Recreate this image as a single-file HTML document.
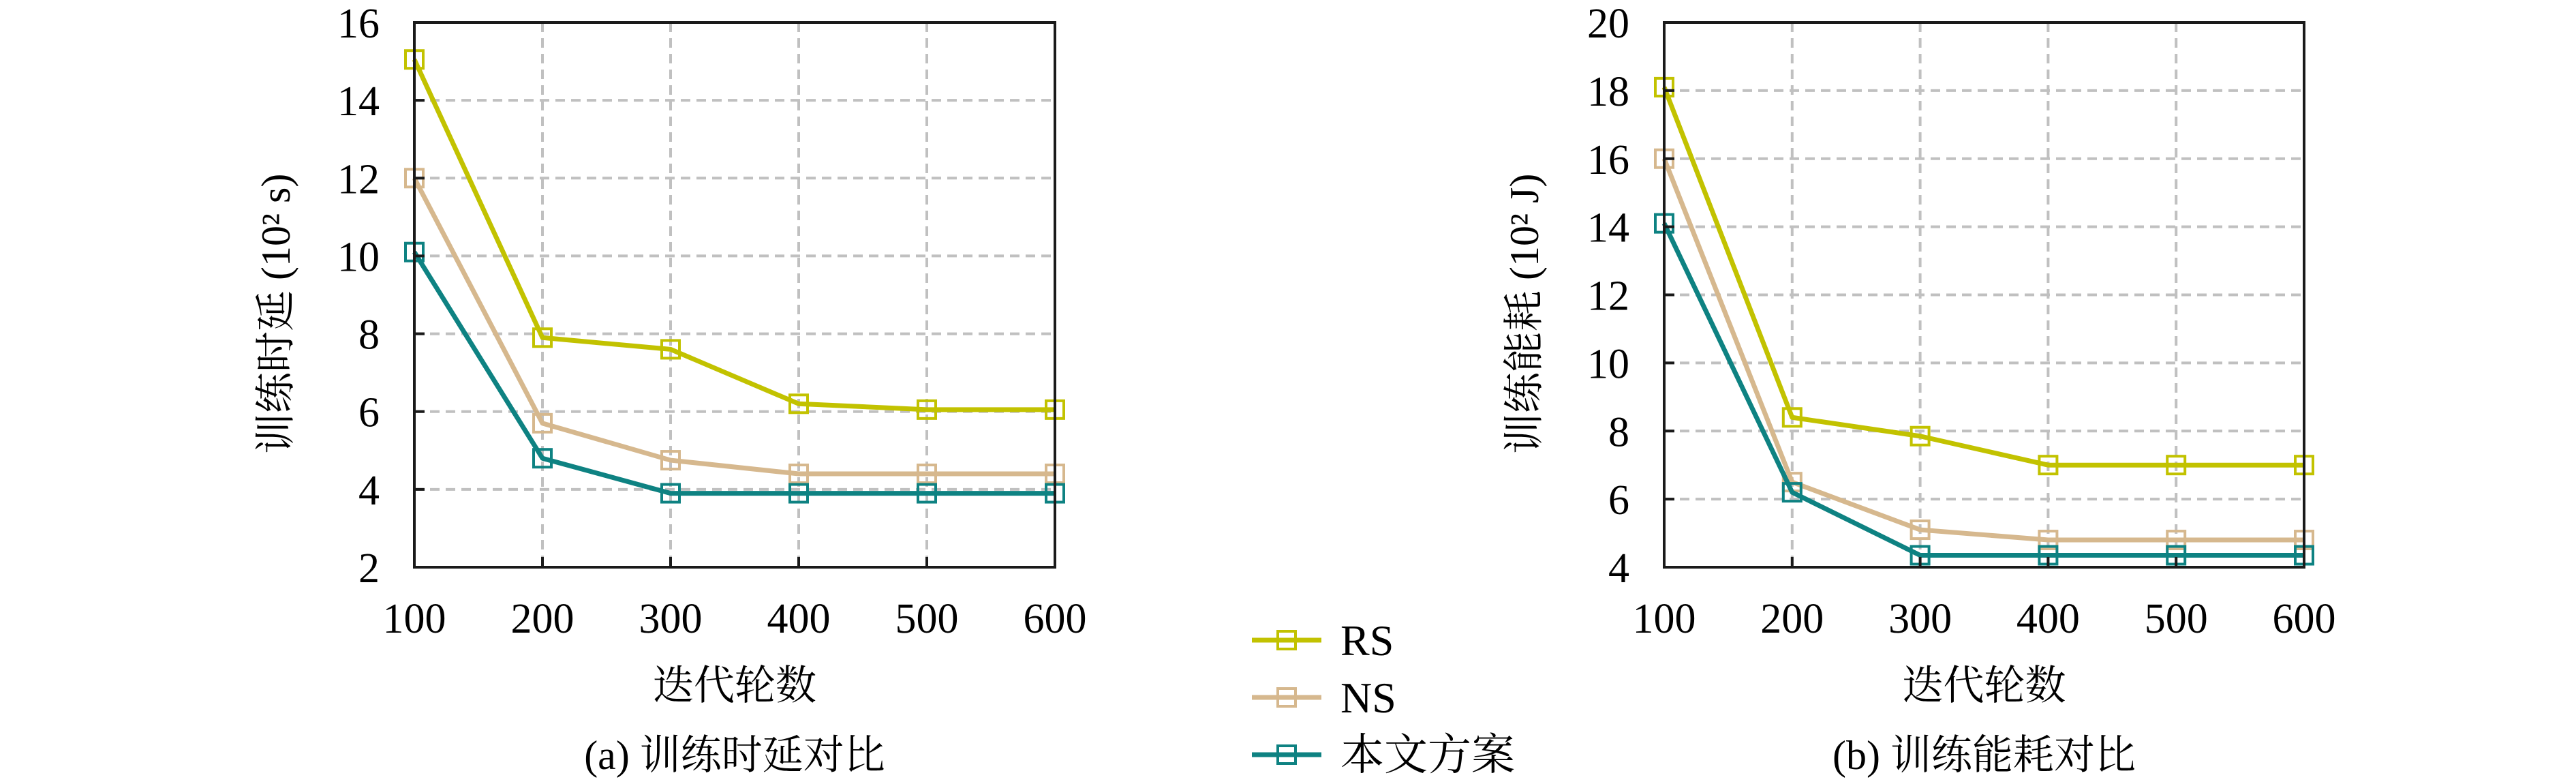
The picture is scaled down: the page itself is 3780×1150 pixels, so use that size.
<!DOCTYPE html>
<html><head><meta charset="utf-8"><style>
html,body{margin:0;padding:0;background:#fff;}
svg{display:block;}
text{font-family:"Liberation Serif","Noto Serif CJK SC",serif;fill:#000;}
</style></head><body>
<svg id="fig" width="3780" height="1150" viewBox="0 0 3780 1150" xmlns="http://www.w3.org/2000/svg"></svg>
<script>
const xCategories = [100, 200, 300, 400, 500, 600];
const seriesNames = ["RS", "NS", "本文方案"];
const latencyRS = [15.05, 7.9, 7.6, 6.2, 6.05, 6.05];
const latencyNS = [12, 5.7, 4.75, 4.4, 4.4, 4.4];
const latencyOurs = [10.1, 4.8, 3.9, 3.9, 3.9, 3.9];
const energyRS = [18.1, 8.4, 7.85, 7.0, 7.0, 7.0];
const energyNS = [16, 6.5, 5.1, 4.8, 4.8, 4.8];
const energyOurs = [14.1, 6.2, 4.35, 4.35, 4.35, 4.35];
const latencyTicks = [2, 4, 6, 8, 10, 12, 14, 16];
const energyTicks = [4, 6, 8, 10, 12, 14, 16, 18, 20];

const NS_ = "http://www.w3.org/2000/svg";
const svg = document.getElementById('fig');
const colors = ["#c2c200", "#d6b88e", "#0e8282"];
function mk(tag, attrs, parent) {
  const e = document.createElementNS(NS_, tag);
  for (const k in attrs) e.setAttribute(k, attrs[k]);
  (parent || svg).appendChild(e);
  return e;
}
function panel(cfg) {
  const g = mk('g', {});
  
  
  const L = cfg.x0, R = cfg.x1, T = 33, B = 832;
  const ymin = cfg.ticks[0], ymax = cfg.ticks[cfg.ticks.length - 1];
  const xs = v => L + (v - xCategories[0]) / (xCategories[xCategories.length - 1] - xCategories[0]) * (R - L);
  const ys = v => B - (v - ymin) / (ymax - ymin) * (B - T);
  // grid
  cfg.ticks.forEach(t => {
    if (t === ymin || t === ymax) return;
    const l = mk('line', {x1: L, x2: R, y1: ys(t), y2: ys(t), stroke: '#c0c0c0', 'stroke-width': 4, 'stroke-dasharray': '14 9'}, g);
    
    
  });
  xCategories.forEach((c, i) => {
    if (i === 0 || i === xCategories.length - 1) return;
    const l = mk('line', {x1: xs(c), x2: xs(c), y1: T, y2: B, stroke: '#c0c0c0', 'stroke-width': 4, 'stroke-dasharray': '14 9'}, g);
    
    
  });
  // series
  cfg.series.forEach((vals, si) => {
    const sg = mk('g', {}, g);
    
    
    const pts = vals.map((v, i) => xs(xCategories[i]) + ',' + ys(v)).join(' ');
    const pl = mk('polyline', {points: pts, fill: 'none', stroke: colors[si], 'stroke-width': 7, 'stroke-linejoin': 'round'}, sg);
    
    
    vals.forEach((v, i) => {
      const r = mk('rect', {x: xs(xCategories[i]) - 13, y: ys(v) - 13, width: 26, height: 26, fill: 'none', stroke: colors[si], 'stroke-width': 4}, sg);
      
      
    });
  });
  // frame
  const fr = mk('rect', {x: L, y: T, width: R - L, height: B - T, fill: 'none', stroke: '#1a1a1a', 'stroke-width': 4}, g);
  
  
  // ticks and labels
  cfg.ticks.forEach(t => {
    const tk = mk('line', {x1: L, x2: L + 15, y1: ys(t), y2: ys(t), stroke: '#1a1a1a', 'stroke-width': 4}, g);
    
    
    const tx = mk('text', {x: L - 51, y: ys(t) + 22, 'text-anchor': 'end', 'font-size': 62}, g);
    tx.textContent = t;
    
    
  });
  xCategories.forEach(c => {
    const tk = mk('line', {x1: xs(c), x2: xs(c), y1: B, y2: B - 15, stroke: '#1a1a1a', 'stroke-width': 4}, g);
    
    
    const tx = mk('text', {x: xs(c), y: 928, 'text-anchor': 'middle', 'font-size': 62}, g);
    tx.textContent = c;
    
    
  });
  const xt = mk('text', {x: (L + R) / 2, y: 1026, 'text-anchor': 'middle', 'font-size': 60}, g);
  xt.textContent = '迭代轮数';
  
  
  const yt = mk('text', {x: 0, y: 0, 'text-anchor': 'start', 'font-size': 60, transform: 'translate(' + (cfg.ytx + 20) + ',666) rotate(-90)'}, g);
  yt.textContent = cfg.ytitle;
  
  
  const cap = mk('text', {x: (L + R) / 2, y: 1128, 'text-anchor': 'middle', 'font-size': 60}, g);
  cap.textContent = cfg.caption;
  
  
}
panel({name: 'latency-chart', x0: 608, x1: 1548, ticks: latencyTicks, series: [latencyRS, latencyNS, latencyOurs], ytitle: '训练时延 (10² s)', ytx: 405, caption: '(a) 训练时延对比'});
panel({name: 'energy-chart', x0: 2442, x1: 3381, ticks: energyTicks, series: [energyRS, energyNS, energyOurs], ytitle: '训练能耗 (10² J)', ytx: 2237, caption: '(b) 训练能耗对比'});

// legend
const lg = mk('g', {});


const legY = [939, 1023, 1107];
seriesNames.forEach((n, i) => {
  const e = mk('g', {}, lg);
  
  
  mk('line', {x1: 1837, x2: 1939, y1: legY[i], y2: legY[i], stroke: colors[i], 'stroke-width': 7}, e);
  mk('rect', {x: 1875, y: legY[i] - 13, width: 26, height: 26, fill: 'none', stroke: colors[i], 'stroke-width': 4}, e);
  const t = mk('text', {x: 1967, y: legY[i] + 22, 'font-size': 64}, e);
  t.textContent = n;
  
  
});
</script>
</body></html>
